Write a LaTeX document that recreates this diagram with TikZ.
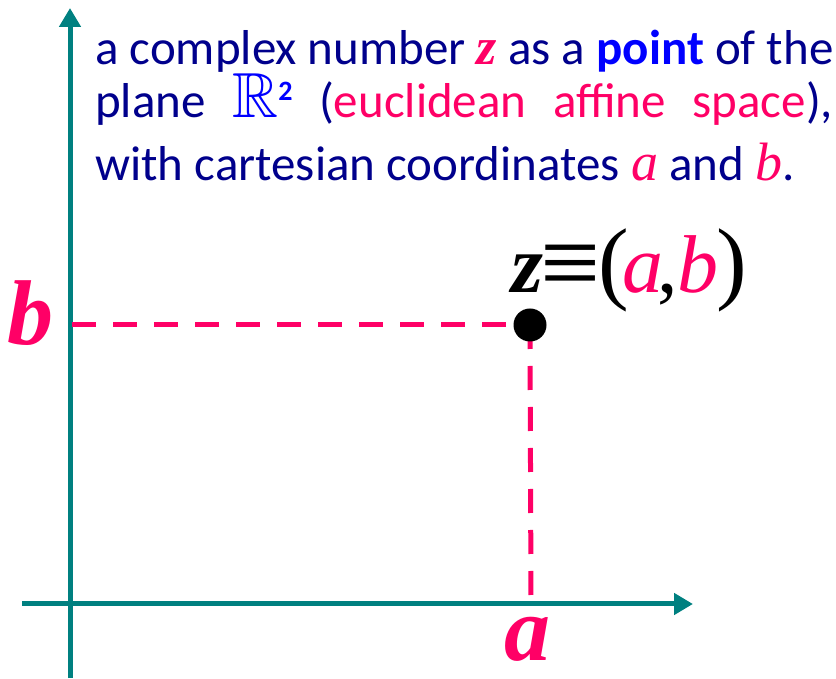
\documentclass[tikz,border=0pt]{standalone}
\usepackage{amssymb}
\usepackage{graphicx}
\usepackage{fontspec}
\setmainfont{Carlito}
\newfontfamily\tms{Liberation Serif}
\usepackage{xcolor}
\usepackage{tikz}
\usetikzlibrary{arrows.meta}
\definecolor{axisteal}{RGB}{0,128,128}
\definecolor{navytext}{RGB}{0,0,140}
\definecolor{hotpink}{RGB}{255,0,102}
\definecolor{brightblue}{RGB}{0,0,255}

\begin{document}
\begin{tikzpicture}[
  x=1pt, y=1pt,
  axis/.style={draw=axisteal, line width=5pt, -{Triangle[length=19pt, width=21pt]}},
  guide/.style={draw=hotpink, line width=5pt, dash pattern=on 24pt off 17pt},
  txt/.style={anchor=base west, inner sep=0pt, font=\fontsize{49}{58}\selectfont, text=navytext},
  coordlbl/.style={anchor=base, inner sep=0pt, font=\fontsize{92}{96}\tms\bfseries\itshape, text=hotpink},
  dot/.style={circle, fill=black, minimum size=33pt, inner sep=0pt}
]
\useasboundingbox (0,0) rectangle (836,678);
\coordinate (ybot) at (70,0);
\coordinate (ytop) at (70,670);
\coordinate (xleft) at (22,74);
\coordinate (xright) at (693,74);
\coordinate (zpt) at (530,353);
\coordinate (afoot) at (531,74);
\coordinate (bfoot) at (72,353);
\draw[axis] (ybot) -- (ytop);
\draw[axis] (xleft) -- (xright);
\draw[guide] (bfoot) -- (zpt);
\draw[guide] (zpt) -- (afoot);
\node[dot] (z) at (zpt) {};
\node[coordlbl] (blbl) at (31,333) {b};
\node[coordlbl] (albl) at (527,18) {a};
\node[anchor=base west, inner sep=0pt, font=\fontsize{82}{86}\tms] (zlbl) at (511,385)
  {\textbf{\textit{z}}\kern-3pt\raisebox{-6pt}{\scalebox{1.3}[1.3]{≡}}\kern-2pt{\fontsize{92}{96}\selectfont(}\kern-6pt\textcolor{hotpink}{\textit{a}}\kern-6pt,\kern-1pt\textcolor{hotpink}{\textit{b}}\kern-2pt{\fontsize{92}{96}\selectfont)}};
\node[txt] (l1) at (95,613) {a complex number {\tms\fontsize{52}{58}\selectfont\bfseries\itshape\color{hotpink}z} as a {\bfseries\color{brightblue}point} of the};
\node[txt] (l2) at (95,560) {\makebox[738pt][s]{plane \textcolor{brightblue}{\scalebox{1.3}{$\mathbb{R}$}\raisebox{17pt}{\fontsize{28}{28}\selectfont\bfseries 2}} (\textcolor{hotpink}{euclidean affine space}),}};
\node[txt] (l3) at (95,497) {with cartesian coordinates {\tms\fontsize{54}{58}\selectfont\itshape\color{hotpink}a} and {\tms\fontsize{54}{58}\selectfont\itshape\color{hotpink}b}.};
\end{tikzpicture}
\end{document}
